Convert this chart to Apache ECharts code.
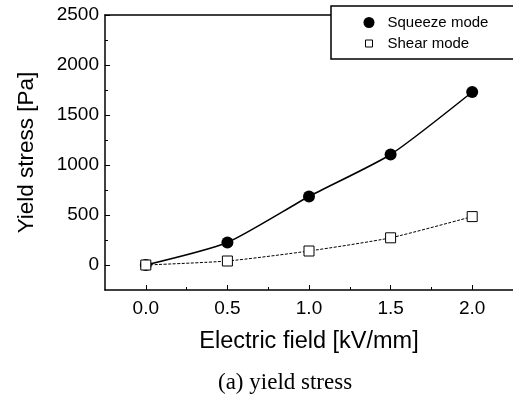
<!DOCTYPE html>
<html>
<head>
<meta charset="utf-8">
<script src="https://cdn.jsdelivr.net/npm/echarts@6/dist/echarts.min.js"></script>
<style>
  html, body { margin: 0; padding: 0; background: #fff; }
  #chart { width: 513px; height: 399px; }
</style>
</head>
<body>
<div id="chart"></div>
<script>
    // electric field values (kV/mm)
    var fieldValues = [0.0, 0.5, 1.0, 1.5, 2.0];
    // yield stress (Pa)
    var squeezeValues = [0, 225, 685, 1105, 1730];
    var shearValues = [0, 40, 140, 272, 484];

    var xMajorTicks = [0, 0.5, 1.0, 1.5, 2.0];
    var xMinorTicks = [0.25, 0.75, 1.25, 1.75];
    var yMajorTicks = [0, 500, 1000, 1500, 2000, 2500];
    var yMinorTicks = [250, 750, 1250, 1750, 2250];

    var fontSans = 'Liberation Sans';

    function pairs(ys) {
        return fieldValues.map(function (x, i) { return [x, ys[i]]; });
    }

    var myChart = echarts.init(document.getElementById('chart'));
    var option = {
        animation: false,
        backgroundColor: '#fff',
        title: {
            text: '(a) yield stress',
            left: 213,
            top: 366,
            textStyle: {
                fontFamily: 'Liberation Serif',
                fontWeight: 'normal',
                fontSize: 23,
                color: '#000'
            }
        },
        legend: {
            orient: 'vertical',
            left: 331,
            top: 6,
            width: 160,
            padding: [9, 30, 8, 32],
            itemGap: 6,
            itemWidth: 11,
            itemHeight: 11,
            backgroundColor: '#fff',
            borderColor: '#000',
            borderWidth: 1.5,
            borderRadius: 0,
            textStyle: { fontFamily: fontSans, fontSize: 15, color: '#000', padding: [0, 0, 0, 8] },
            data: [
                { name: 'Squeeze mode', icon: 'circle', itemStyle: { color: '#000', borderWidth: 0 } },
                {
                    name: 'Shear mode',
                    icon: 'path://M0,0M11,11M2,2L9,2L9,9L2,9Z',
                    itemStyle: { color: '#fff', borderColor: '#000', borderWidth: 1 }
                }
            ]
        },
        grid: {
            left: 105,
            top: 15,
            right: -2,
            bottom: 109
        },
        xAxis: [
            {
                type: 'value',
                min: -0.25,
                max: 2.25,
                name: 'Electric field [kV/mm]',
                nameLocation: 'middle',
                nameGap: 40,
                nameTextStyle: { fontFamily: fontSans, fontSize: 23.5, color: '#000' },
                axisLine: { show: true, onZero: false, lineStyle: { color: '#000', width: 1.5 } },
                axisTick: { show: true, inside: true, length: 5, customValues: xMajorTicks, lineStyle: { color: '#000' } },
                axisLabel: {
                    customValues: xMajorTicks,
                    margin: 9,
                    fontFamily: fontSans,
                    fontSize: 19,
                    color: '#000',
                    formatter: function (v) { return v.toFixed(1); }
                },
                splitLine: { show: false }
            },
            {
                type: 'value',
                min: -0.25,
                max: 2.25,
                position: 'bottom',
                axisLine: { show: false, onZero: false },
                axisTick: { show: true, inside: true, length: 3, customValues: xMinorTicks, lineStyle: { color: '#000' } },
                axisLabel: { show: false },
                splitLine: { show: false }
            },
            {
                type: 'value',
                min: -0.25,
                max: 2.25,
                position: 'top',
                axisLine: { show: true, onZero: false, lineStyle: { color: '#000', width: 1.5 } },
                axisTick: { show: false },
                axisLabel: { show: false },
                splitLine: { show: false }
            }
        ],
        yAxis: [
            {
                type: 'value',
                min: -250,
                max: 2500,
                name: 'Yield stress [Pa]',
                nameLocation: 'middle',
                nameGap: 67,
                nameTextStyle: { fontFamily: fontSans, fontSize: 22.5, color: '#000' },
                axisLine: { show: true, onZero: false, lineStyle: { color: '#000', width: 1.5 } },
                axisTick: { show: true, inside: true, length: 5, customValues: yMajorTicks, lineStyle: { color: '#000' } },
                axisLabel: {
                    customValues: yMajorTicks,
                    margin: 6,
                    fontFamily: fontSans,
                    fontSize: 19,
                    color: '#000',
                    formatter: function (v) { return String(v); }
                },
                splitLine: { show: false }
            },
            {
                type: 'value',
                min: -250,
                max: 2500,
                position: 'left',
                axisLine: { show: false, onZero: false },
                axisTick: { show: true, inside: true, length: 3, customValues: yMinorTicks, lineStyle: { color: '#000' } },
                axisLabel: { show: false },
                splitLine: { show: false }
            }
        ],
        series: [
            {
                name: 'Squeeze mode',
                type: 'line',
                smooth: 0.2,
                data: pairs(squeezeValues),
                symbol: 'circle',
                symbolSize: 12,
                itemStyle: { color: '#000' },
                lineStyle: { color: '#000', width: 1.5 },
                z: 3
            },
            {
                name: 'Shear mode',
                type: 'line',
                smooth: 0.2,
                data: pairs(shearValues),
                symbol: 'rect',
                symbolSize: 10,
                itemStyle: { color: '#fff', borderColor: '#000', borderWidth: 1 },
                lineStyle: { color: '#000', width: 1, type: [3, 1.5] },
                z: 4
            }
        ]
    };
    myChart.setOption(option);
</script>
</body>
</html>
